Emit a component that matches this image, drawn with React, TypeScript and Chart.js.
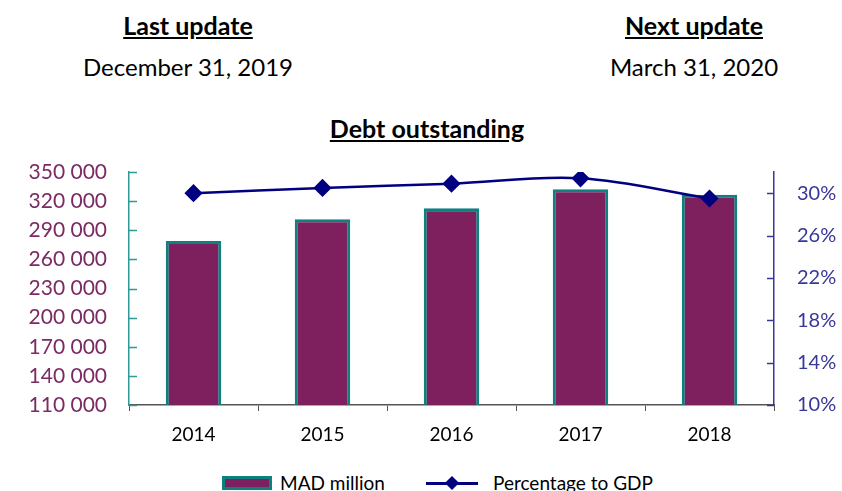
import React, { useEffect, useRef } from "react";
import { Chart, registerables } from "chart.js";

Chart.register(...registerables);

const years = ["2014", "2015", "2016", "2017", "2018"];
const debtMAD = [278900, 301300, 312600, 332200, 326600];
const pctGDP = [30.0, 30.5, 30.9, 31.4, 29.5];
const leftTicks = [110000, 140000, 170000, 200000, 230000, 260000, 290000, 320000, 350000];
const rightTicks = [10, 14, 18, 22, 26, 30];

const FONT = "Lato, 'Open Sans', sans-serif";
const BAR_FILL = "#7E1F5E";
const BAR_EDGE = "#0F8080";
const LINE_COL = "#000080";
const LEFT_COL = "#7B2A63";
const RIGHT_COL = "#37379A";

const fmtThousands = (v: number) => String(v).replace(/\B(?=(\d{3})+(?!\d))/g, " ");

const innerTicks = {
  id: "innerTicks",
  afterDraw(chart: any) {
    const ctx = chart.ctx;
    const y = chart.scales.y;
    const y1 = chart.scales.y1;
    ctx.save();
    ctx.lineWidth = 1.5;
    ctx.strokeStyle = "#2E9A9A";
    leftTicks.forEach((v) => {
      const py = Math.round(y.getPixelForValue(v)) + 0.5;
      ctx.beginPath();
      ctx.moveTo(y.right, py);
      ctx.lineTo(y.right + 8, py);
      ctx.stroke();
    });
    ctx.strokeStyle = RIGHT_COL;
    rightTicks.forEach((v) => {
      const py = Math.round(y1.getPixelForValue(v)) + 0.5;
      ctx.beginPath();
      ctx.moveTo(y1.left - 7, py);
      ctx.lineTo(y1.left, py);
      ctx.stroke();
    });
    ctx.restore();
  },
};

export default function App() {
  const ref = useRef<HTMLCanvasElement>(null);

  useEffect(() => {
    if (!ref.current) return;
    const chart = new Chart(ref.current, {
      type: "bar",
      data: {
        labels: years,
        datasets: [
          {
            type: "line",
            label: "Percentage to GDP",
            data: pctGDP,
            yAxisID: "y1",
            borderColor: LINE_COL,
            backgroundColor: LINE_COL,
            borderWidth: 2.5,
            tension: 0.35,
            pointStyle: "rectRot",
            pointRadius: 7.3,
            pointBackgroundColor: LINE_COL,
            pointBorderColor: LINE_COL,
            order: 0,
          } as any,
          {
            type: "bar",
            label: "MAD million",
            data: debtMAD,
            yAxisID: "y",
            backgroundColor: BAR_FILL,
            borderColor: BAR_EDGE,
            borderWidth: 3,
            borderSkipped: false,
            barPercentage: 0.43,
            categoryPercentage: 1,
            order: 1,
          } as any,
        ],
      },
      options: {
        animation: false,
        responsive: true,
        maintainAspectRatio: false,
        layout: { padding: { top: 32, left: 0, right: 0, bottom: 0 } },
        plugins: { legend: { display: false }, tooltip: { enabled: false } },
        scales: {
          x: {
            offset: true,
            grid: {
              offset: true,
              drawOnChartArea: false,
              drawTicks: true,
              tickLength: 6,
              color: "#555",
            },
            border: { color: "#555", width: 1.5 },
            ticks: { color: "#000", font: { family: FONT, size: 19 }, padding: 12 },
            afterFit: (s: any) => { s.height = 45; },
          },
          y: {
            position: "left",
            min: 110000,
            max: 350000,
            afterBuildTicks: (s: any) => { s.ticks = leftTicks.map((v) => ({ value: v })); },
            grid: { drawOnChartArea: false, drawTicks: false },
            border: { color: "#2E9A9A", width: 1.5 },
            ticks: {
              color: LEFT_COL,
              font: { family: FONT, size: 21 },
              padding: 22,
              callback: (v: any) => fmtThousands(Number(v)),
            },
            afterFit: (s: any) => { s.width = 129; s.paddingTop = 0; s.paddingBottom = 0; },
          },
          y1: {
            position: "right",
            min: 10,
            max: 32,
            afterBuildTicks: (s: any) => { s.ticks = rightTicks.map((v) => ({ value: v })); },
            grid: { drawOnChartArea: false, drawTicks: false },
            border: { color: RIGHT_COL, width: 1.5 },
            ticks: {
              color: RIGHT_COL,
              font: { family: FONT, size: 20 },
              padding: 23,
              callback: (v: any) => v + "%",
            },
            afterFit: (s: any) => { s.width = 68; s.paddingTop = 0; s.paddingBottom = 0; },
          },
        },
      },
      plugins: [innerTicks],
    });
    return () => chart.destroy();
  }, []);

  const head: React.CSSProperties = {
    position: "absolute",
    width: 300,
    textAlign: "center",
    fontFamily: FONT,
    fontSize: 24,
    lineHeight: "28px",
    color: "#000",
    whiteSpace: "nowrap",
  };

  return (
    <div style={{ position: "absolute", left: 0, top: 0, width: 842, height: 491, overflow: "hidden", background: "#fff" }}>
      <div style={{ ...head, left: 188 - 150, top: 11, fontSize: 25, fontWeight: 700, textDecoration: "underline" }}>Last update</div>
      <div style={{ ...head, left: 188 - 150, top: 53 }}>December 31, 2019</div>
      <div style={{ ...head, left: 694 - 150, top: 11, fontSize: 25, fontWeight: 700, textDecoration: "underline" }}>Next update</div>
      <div style={{ ...head, left: 694 - 150, top: 53 }}>March 31, 2020</div>
      <div style={{ ...head, left: 427 - 150, top: 114, fontSize: 25, fontWeight: 700, textDecoration: "underline" }}>Debt outstanding</div>
      <div style={{ position: "absolute", left: 0, top: 140, width: 842, height: 310 }}>
        <canvas ref={ref} />
      </div>
      <div style={{ position: "absolute", left: 222, top: 476, width: 50, height: 14, boxSizing: "border-box", background: BAR_FILL, border: `3px solid ${BAR_EDGE}` }} />
      <div style={{ position: "absolute", left: 280, top: 470, fontFamily: FONT, fontSize: 19, lineHeight: "26px", color: "#000", whiteSpace: "nowrap" }}>MAD million</div>
      <div style={{ position: "absolute", left: 426, top: 482, width: 52, height: 2.5, background: LINE_COL }} />
      <div style={{ position: "absolute", left: 447, top: 478, width: 10, height: 10, background: LINE_COL, transform: "rotate(45deg)" }} />
      <div style={{ position: "absolute", left: 493, top: 470, fontFamily: FONT, fontSize: 19, lineHeight: "26px", color: "#000", whiteSpace: "nowrap" }}>Percentage to GDP</div>
    </div>
  );
}
